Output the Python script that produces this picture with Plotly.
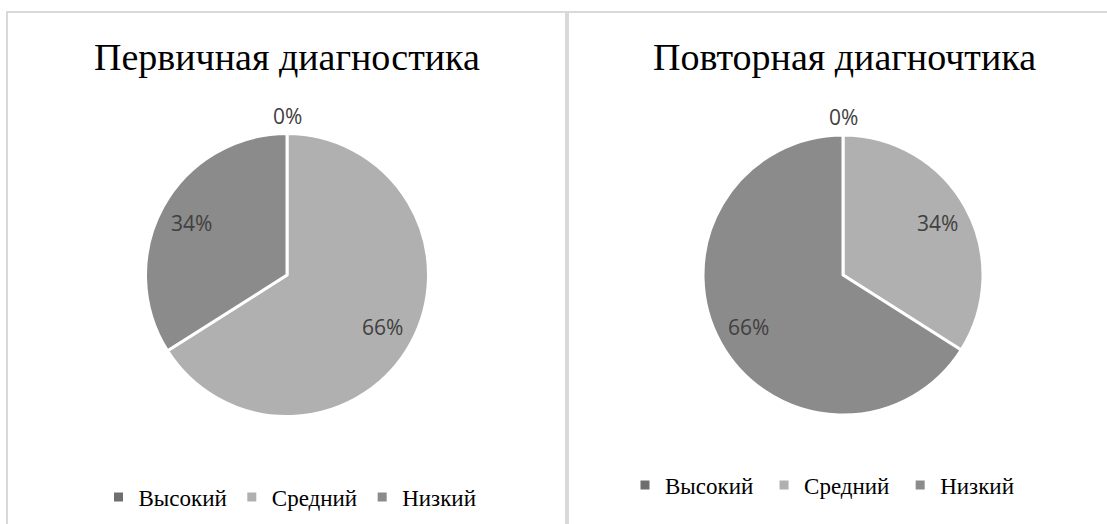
import math
import plotly.graph_objects as go

W, H = 1107, 524

labels = ["Высокий", "Средний", "Низкий"]
values_first = [0, 66, 34]
values_second = [0, 34, 66]
titles = ["Первичная диагностика", "Повторная диагночтика"]
colors = ["#6f6f6f", "#b0b0b0", "#8b8b8b"]

SERIF = "Liberation Serif, Times New Roman, serif"
SANS = "Open Sans, sans-serif"


def px(x):
    return x / W


def py(y):
    return 1 - y / H


# pie geometry in page pixels: (center x, center y, radius)
pies = [
    dict(values=values_first, cx=287, cy=275, r=141.5, title_x=287, legend="legend", suffix=""),
    dict(values=values_second, cx=843, cy=275, r=140, title_x=844, legend="legend2", suffix=" "),
]

fig = go.Figure()
annotations = []

for p in pies:
    fig.add_trace(go.Pie(
        # pie legends are shared by label, so the second chart gets a trailing space
        labels=[lab + p["suffix"] for lab in labels],
        values=p["values"],
        sort=False,
        direction="clockwise",
        rotation=0,
        marker=dict(colors=colors, line=dict(color="white", width=3)),
        textinfo="none",
        hoverinfo="label+percent",
        domain=dict(x=[px(p["cx"] - p["r"]), px(p["cx"] + p["r"])],
                    y=[py(p["cy"] + p["r"]), py(p["cy"] - p["r"])]),
        legend=p["legend"],
    ))
    total = sum(p["values"])
    cum = 0
    for v in p["values"]:
        frac = v / total
        theta = 2 * math.pi * (cum + frac / 2)
        rr = p["r"] * 0.77 if v > 0 else p["r"] + 18
        lx = p["cx"] + rr * math.sin(theta)
        ly = p["cy"] - rr * math.cos(theta)
        annotations.append(dict(
            text=f"{round(frac * 100)}%", x=px(lx), y=py(ly),
            xref="paper", yref="paper", showarrow=False,
            xanchor="center", yanchor="middle",
            font=dict(family=SANS, size=21, color="#404040"),
        ))
        cum += frac

for t, p in zip(titles, pies):
    annotations.append(dict(
        text=t, x=px(p["title_x"]), y=py(57), xref="paper", yref="paper",
        showarrow=False, xanchor="center", yanchor="middle",
        font=dict(family=SERIF, size=38, color="#000000"),
    ))

legend_style = dict(orientation="h", xanchor="center", yanchor="middle",
                    font=dict(family=SERIF, size=23, color="#000000"),
                    bgcolor="rgba(0,0,0,0)", itemclick=False)

fig.update_layout(
    width=W, height=H,
    margin=dict(l=0, r=0, t=0, b=0),
    paper_bgcolor="white",
    plot_bgcolor="white",
    legend=dict(x=px(290), y=py(497), **legend_style),
    legend2=dict(x=px(825), y=py(485), **legend_style),
    annotations=annotations,
    shapes=[
        dict(type="line", xref="paper", yref="paper", x0=px(6), x1=1, y0=py(12), y1=py(12),
             line=dict(color="#d9d9d9", width=2)),
        dict(type="line", xref="paper", yref="paper", x0=px(7), x1=px(7), y0=py(11), y1=0,
             line=dict(color="#d9d9d9", width=2)),
        dict(type="line", xref="paper", yref="paper", x0=px(567), x1=px(567), y0=py(11), y1=0,
             line=dict(color="#d9d9d9", width=4)),
    ],
)

fig.write_html("out.html",
               config={"displayModeBar": False},
               post_script="document.body.style.margin='0';document.body.style.padding='0';")
